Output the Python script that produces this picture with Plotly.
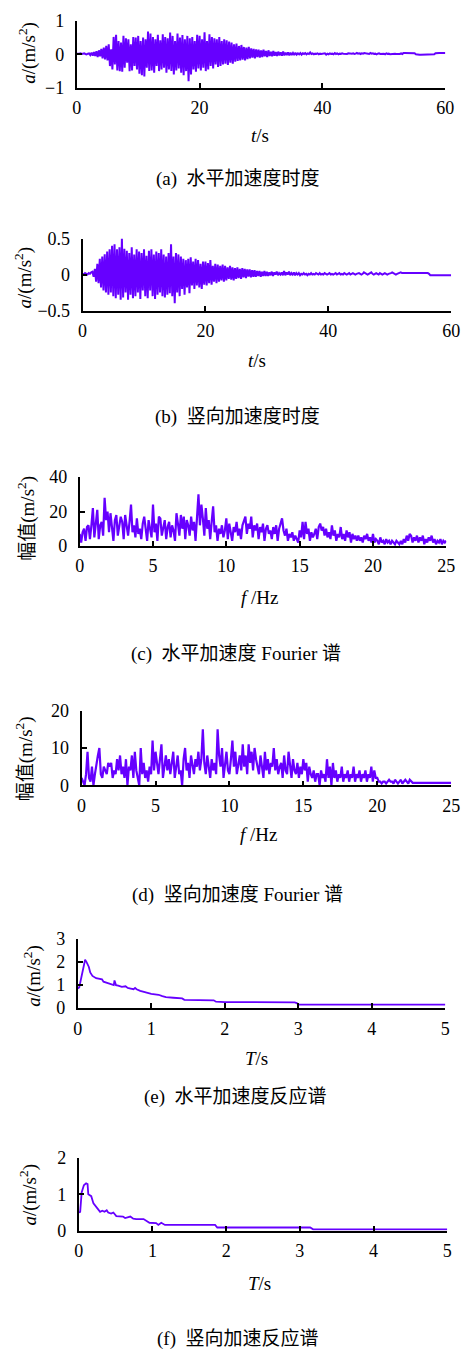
import plotly.graph_objects as go

# ---------------------------------------------------------------------------
# Data
# ---------------------------------------------------------------------------
DT = 0.2    # sampling step of the acceleration records, s
DF = 0.1    # frequency step of the Fourier amplitude spectra, Hz

# horizontal acceleration history, m/s^2 (one row = 5 s)
acc_h = [
    0.02, 0.01, 0.02, 0.03, 0.01, 0.02, 0.03, 0.01, 0.00, 0.02, 0.03, -0.02, 0.05, -0.04, 0.07, -0.05, 0.09, -0.08, 0.12, -0.06, 0.16, -0.12, 0.20, -0.15, 0.25,
    -0.18, 0.30, -0.35, 0.15, -0.45, 0.52, -0.30, 0.58, -0.48, 0.40, -0.50, 0.35, -0.52, 0.55, -0.40, 0.48, -0.25, 0.45, -0.50, 0.30, -0.48, 0.52, -0.35, 0.50, -0.45,
    0.55, -0.58, 0.40, -0.62, 0.50, -0.66, 0.45, -0.40, 0.68, -0.50, 0.62, -0.48, 0.52, -0.55, 0.45, -0.35, 0.58, -0.50, 0.42, -0.45, 0.60, -0.40, 0.52, -0.55, 0.48,
    -0.45, 0.65, -0.50, 0.55, -0.60, 0.40, -0.48, 0.62, -0.42, 0.50, -0.55, 0.58, -0.62, 0.45, -0.50, 0.55, -0.80, 0.48, -0.60, 0.52, -0.45, 0.40, -0.52, 0.58, -0.42,
    0.55, -0.48, 0.45, -0.40, 0.66, -0.50, 0.40, -0.45, 0.60, -0.35, 0.52, -0.42, 0.48, -0.30, 0.45, -0.38, 0.52, -0.35, 0.40, -0.30, 0.45, -0.28, 0.42, -0.32, 0.38,
    -0.25, 0.35, -0.28, 0.30, -0.22, 0.32, -0.20, 0.25, -0.18, 0.28, -0.16, 0.22, -0.18, 0.20, -0.14, 0.22, -0.12, 0.18, -0.10, 0.16, -0.12, 0.15, -0.08, 0.14, -0.10,
    0.12, -0.08, 0.14, -0.06, 0.10, -0.08, 0.12, -0.05, 0.08, -0.06, 0.10, -0.04, 0.07, -0.05, 0.08, -0.03, 0.06, -0.04, 0.08, -0.03, 0.05, -0.02, 0.06, -0.03, 0.05,
    -0.02, 0.04, -0.02, 0.05, -0.01, 0.03, 0.00, 0.04, -0.01, 0.03, 0.01, 0.04, 0.00, 0.03, 0.01, 0.06, 0.01, 0.03, 0.00, 0.02, 0.01, 0.03, 0.00, 0.02, 0.01,
    0.02, 0.01, 0.03, -0.01, 0.02, 0.00, 0.03, 0.01, 0.02, 0.00, 0.04, 0.01, 0.03, 0.00, 0.02, 0.01, 0.03, 0.02, 0.01, 0.02, 0.01, 0.03, 0.02, 0.01, 0.02,
    0.03, 0.01, 0.02, 0.04, 0.02, 0.03, 0.01, 0.03, 0.02, 0.04, 0.03, 0.02, 0.03, 0.01, 0.04, 0.02, 0.03, 0.01, 0.02, 0.00, 0.02, 0.03, 0.01, 0.02, 0.01,
    0.02, 0.00, 0.03, 0.01, 0.02, 0.00, 0.01, 0.02, 0.01, 0.02, 0.01, 0.02, 0.01, 0.01, 0.03, 0.01, 0.04, 0.04, 0.04, 0.04, 0.04, 0.04, 0.04, 0.04, 0.04,
    0.03, 0.00, -0.01, -0.01, -0.01, -0.01, -0.01, -0.01, -0.01, -0.01, -0.01, -0.01, -0.01, -0.01, -0.01, -0.01, 0.00, 0.03, 0.04, 0.04, 0.04, 0.04, 0.04, 0.04, 0.04,
    0.04,
]

# vertical acceleration history, m/s^2 (one row = 5 s)
acc_v = [
    0.01, 0.00, 0.02, 0.01, 0.00, 0.02, 0.01, 0.03, 0.04, -0.03, 0.08, -0.10, 0.15, -0.12, 0.22, -0.18, 0.25, -0.22, 0.28, -0.25, 0.32, -0.28, 0.35, -0.25, 0.40,
    -0.30, 0.42, -0.33, 0.35, -0.28, 0.38, -0.35, 0.50, -0.32, 0.36, -0.25, 0.33, -0.35, 0.30, -0.28, 0.38, -0.33, 0.28, -0.30, 0.35, -0.25, 0.32, -0.34, 0.30, -0.22,
    0.35, -0.30, 0.26, -0.33, 0.33, -0.22, 0.35, -0.30, 0.28, -0.34, 0.32, -0.28, 0.30, -0.25, 0.35, -0.30, 0.28, -0.32, 0.25, -0.28, 0.30, -0.26, 0.42, -0.30, 0.25,
    -0.40, 0.30, -0.25, 0.28, -0.30, 0.25, -0.20, 0.22, -0.28, 0.20, -0.18, 0.22, -0.26, 0.24, -0.15, 0.18, -0.20, 0.22, -0.15, 0.20, -0.18, 0.15, -0.20, 0.18, -0.14,
    0.18, -0.15, 0.16, -0.12, 0.20, -0.14, 0.12, -0.10, 0.15, -0.12, 0.14, -0.10, 0.12, -0.08, 0.14, -0.10, 0.12, -0.08, 0.10, -0.06, 0.12, -0.07, 0.10, -0.08, 0.09,
    -0.06, 0.10, -0.05, 0.08, -0.06, 0.09, -0.04, 0.08, -0.05, 0.07, -0.03, 0.07, -0.04, 0.06, -0.03, 0.06, -0.03, 0.05, -0.02, 0.05, -0.03, 0.04, -0.02, 0.05, -0.02,
    0.04, -0.02, 0.03, -0.01, 0.04, -0.02, 0.03, 0.00, 0.04, -0.01, 0.02, 0.00, 0.03, -0.01, 0.05, -0.01, 0.03, 0.00, 0.04, -0.01, 0.02, 0.00, 0.03, -0.01, 0.02,
    0.00, 0.02, -0.01, 0.01, 0.00, 0.02, 0.00, 0.01, -0.01, 0.01, 0.00, 0.02, 0.00, 0.01, 0.00, 0.02, 0.01, 0.00, 0.02, 0.00, 0.01, 0.00, 0.02, 0.01, 0.00,
    0.01, 0.02, 0.00, 0.01, 0.00, 0.01, 0.02, 0.00, 0.01, 0.02, 0.00, 0.01, 0.00, 0.02, 0.01, 0.00, 0.01, 0.02, 0.00, 0.01, 0.02, 0.01, 0.00, 0.01, 0.02,
    0.02, 0.01, 0.00, 0.01, 0.03, 0.02, 0.01, 0.00, 0.01, 0.02, 0.03, 0.01, 0.00, 0.01, 0.02, 0.01, 0.00, 0.02, 0.01, 0.00, 0.01, 0.02, 0.01, 0.00, 0.01,
    0.01, 0.02, 0.03, 0.02, 0.01, 0.00, 0.01, 0.02, 0.03, 0.03, 0.02, 0.02, 0.03, 0.03, 0.02, 0.02, 0.02, 0.02, 0.02, 0.02, 0.02, 0.03, 0.02, 0.02, 0.02,
    0.02, 0.02, 0.02, 0.02, 0.02, 0.02, 0.02, 0.01, -0.01, -0.01, -0.01, -0.01, -0.01, -0.01, -0.01, -0.01, -0.01, -0.01, -0.01, -0.01, -0.01, -0.01, -0.01, -0.01, -0.01,
    -0.01,
]

# Fourier amplitude of the horizontal record (one row = 1 Hz)
four_h = [
    7, 2, 8, 10, 3, 11, 12, 4, 12, 22,
    5, 13, 21, 4, 12, 14, 6, 28, 15, 20,
    8, 19, 12, 3, 15, 18, 6, 12, 17, 14,
    4, 18, 10, 6, 14, 24, 8, 12, 5, 16,
    7, 10, 4, 13, 17, 9, 3, 15, 11, 5,
    24, 8, 13, 3, 17, 16, 6, 12, 15, 4,
    11, 14, 5, 12, 9, 3, 19, 13, 6, 18,
    10, 17, 4, 15, 12, 6, 17, 9, 14, 3,
    18, 30, 12, 24, 16, 6, 22, 10, 15, 4,
    14, 23, 8, 12, 3, 10, 7, 12, 5, 9,
    16, 4, 13, 9, 3, 11, 8, 14, 6, 10,
    4, 12, 15, 17, 7, 13, 10, 17, 5, 12,
    9, 13, 4, 11, 8, 13, 3, 10, 12, 7,
    9, 4, 11, 7, 12, 3, 10, 14, 16, 9,
    6, 10, 3, 7, 5, 8, 3, 6, 4, 2,
    9, 5, 14, 4, 14, 7, 10, 3, 8, 5,
    7, 10, 4, 11, 13, 9, 11, 6, 10, 5,
    8, 4, 12, 6, 9, 3, 7, 5, 11, 4,
    7, 3, 9, 5, 8, 2, 7, 4, 6, 3,
    6, 3, 5, 2, 6, 4, 7, 3, 5, 2,
    7, 2, 4, 3, 1, 5, 2, 3, 1, 4,
    2, 3, 1, 3, 2, 1, 3, 2, 1, 3,
    1, 4, 2, 6, 3, 7, 6, 2, 5, 3,
    6, 2, 5, 3, 6, 1, 4, 2, 5, 3,
    6, 2, 4, 1, 3, 2, 4, 1, 3, 2,
    3,
]

# Fourier amplitude of the vertical record (one row = 1 Hz)
four_v = [
    2, 1, 0, 3, 9, 2, 1, 5, 0, 3,
    6, 8, 10, 3, 2, 5, 4, 3, 6, 5,
    6, 2, 4, 3, 7, 4, 8, 3, 5, 2,
    7, 0, 5, 4, 8, 2, 9, 4, 2, 0,
    10, 3, 6, 2, 4, 1, 5, 3, 12, 4,
    9, 5, 3, 7, 11, 2, 6, 8, 4, 7,
    3, 6, 9, 2, 5, 8, 3, 4, 0, 7,
    10, 4, 6, 2, 8, 5, 3, 7, 5, 9,
    4, 7, 15, 6, 3, 8, 5, 2, 7, 4,
    6, 3, 15, 8, 5, 10, 2, 6, 9, 4,
    3, 7, 12, 5, 9, 3, 6, 8, 4, 11,
    5, 8, 3, 11, 6, 9, 4, 10, 7, 5,
    3, 8, 5, 2, 9, 4, 7, 3, 6, 5,
    10, 4, 7, 3, 5, 6, 2, 8, 4, 3,
    9, 5, 2, 7, 4, 3, 6, 2, 5, 3,
    7, 4, 6, 1, 5, 3, 2, 4, 1, 3,
    3, 0, 4, 2, 3, 1, 7, 2, 5, 0,
    6, 2, 4, 1, 3, 2, 5, 1, 3, 2,
    4, 1, 3, 2, 5, 1, 3, 2, 4, 1,
    3, 2, 4, 1, 3, 2, 5, 1, 4, 2,
    2, 1, 1, 0.5, 1, 1, 0.5, 1, 1.5, 1,
    1, 0.5, 1.5, 1, 0.5, 1, 1.5, 0.5, 1, 1.5,
    1, 0.5, 1.5, 1, 0.7, 0.7, 0.7, 0.7, 0.7, 0.7,
    0.7, 0.7, 0.7, 0.7, 0.7, 0.7, 0.7, 0.7, 0.7, 0.7,
    0.7, 0.7, 0.7, 0.7, 0.7, 0.7, 0.7, 0.7, 0.7, 0.7,
    0.7,
]

# acceleration response spectra: period T (s) and spectral acceleration (m/s^2)
rs_h_T = [0, 0.02, 0.05, 0.08, 0.1, 0.12, 0.14, 0.15, 0.17, 0.2,
          0.25, 0.3, 0.33, 0.35, 0.4, 0.45, 0.49, 0.5, 0.52, 0.55,
          0.6, 0.65, 0.68, 0.72, 0.76, 0.78, 0.8, 0.85, 0.9, 0.95,
          1.0, 1.05, 1.1, 1.15, 1.2, 1.3, 1.42, 1.45, 1.85, 1.88,
          2.0, 2.95, 2.98, 3.0, 5.0]
rs_h_a = [0.85, 0.9, 1.35, 1.85, 2.1, 2.0, 1.9, 1.8, 1.55, 1.4,
          1.3, 1.28, 1.25, 1.15, 1.1, 1.02, 1.0, 1.2, 1.0, 0.98,
          0.92, 0.95, 0.88, 0.85, 0.82, 0.88, 0.82, 0.75, 0.7, 0.65,
          0.62, 0.6, 0.58, 0.52, 0.48, 0.45, 0.42, 0.36, 0.34, 0.28,
          0.26, 0.25, 0.22, 0.15, 0.15]

rs_v_T = [0, 0.02, 0.04, 0.07, 0.1, 0.12, 0.13, 0.15, 0.17, 0.2,
          0.25, 0.29, 0.32, 0.35, 0.38, 0.4, 0.44, 0.47, 0.51, 0.6,
          0.63, 0.66, 0.7, 0.74, 0.78, 0.88, 0.92, 0.96, 1.05, 1.08,
          1.12, 1.14, 1.17, 1.85, 1.88, 3.14, 3.18, 5.0]
rs_v_a = [0.5, 0.52, 1.05, 1.25, 1.3, 1.28, 1.0, 0.98, 0.95, 0.75,
          0.62, 0.52, 0.55, 0.52, 0.56, 0.5, 0.47, 0.5, 0.4, 0.39,
          0.35, 0.36, 0.39, 0.33, 0.32, 0.32, 0.28, 0.22, 0.21, 0.16,
          0.22, 0.2, 0.16, 0.16, 0.09, 0.09, 0.04, 0.04]

t_h = [i * DT for i in range(len(acc_h))]
t_v = [i * DT for i in range(len(acc_v))]
f_h = [i * DF for i in range(len(four_h))]
f_v = [i * DF for i in range(len(four_v))]

# ---------------------------------------------------------------------------
# Layout of the six panels (pixel boxes on a 465 x 1359 page)
# ---------------------------------------------------------------------------
W, H = 465, 1359
FONT = "Liberation Serif, Noto Sans CJK SC, serif"
LINE = "#6600ff"
TICK_SIZE = 18
TITLE_SIZE = 19
CAP_SIZE = 19

A_LABEL = "<i>a</i>/(m/s<sup>2</sup>)"
AMP_LABEL = "幅值(m/s<sup>2</sup>)"

panels = [
    dict(x=t_h, y=acc_h, xr=[0, 60], yr=[-1, 1], xt=[0, 20, 40, 60], yt=[-1, 0, 1],
         box=(74, 454, 11, 79), width=2.0, ytitle=A_LABEL, ypos=(23, 43),
         xtitle="<i>t</i>/s", xpos=(263, 127),
         cap="(a)  水平加速度时度", cpos=(240, 172)),
    dict(x=t_v, y=acc_v, xr=[0, 60], yr=[-0.5, 0.5], xt=[0, 20, 40, 60], yt=[-0.5, 0, 0.5],
         box=(80, 460, 232, 305), width=2.0, ytitle=A_LABEL, ypos=(19, 271),
         xtitle="<i>t</i>/s", xpos=(260, 356),
         cap="(b)  竖向加速度时度", cpos=(240, 413)),
    dict(x=f_h, y=four_h, xr=[0, 25], yr=[0, 40], xt=[0, 5, 10, 15, 20, 25], yt=[0, 20, 40],
         box=(77, 455, 474, 544), width=2.2, ytitle=AMP_LABEL, ypos=(22, 516),
         xtitle="<i>f</i> /Hz", xpos=(262, 596),
         cap="(c)  水平加速度 Fourier 谱", cpos=(238, 654)),
    dict(x=f_v, y=four_v, xr=[0, 25], yr=[0, 20], xt=[0, 5, 10, 15, 20, 25], yt=[0, 10, 20],
         box=(79, 460, 711, 787), width=2.2, ytitle=AMP_LABEL, ypos=(20, 760),
         xtitle="<i>f</i> /Hz", xpos=(261, 837),
         cap="(d)  竖向加速度 Fourier 谱", cpos=(240, 898)),
    dict(x=rs_h_T, y=rs_h_a, xr=[0, 5], yr=[0, 3], xt=[0, 1, 2, 3, 4, 5], yt=[0, 1, 2, 3],
         box=(75, 454, 943, 1013), width=1.8, ytitle=A_LABEL, ypos=(28, 980),
         xtitle="<i>T</i>/s", xpos=(259, 1064),
         cap="(e)  水平加速度反应谱", cpos=(238, 1103)),
    dict(x=rs_v_T, y=rs_v_a, xr=[0, 5], yr=[0, 2], xt=[0, 1, 2, 3, 4, 5], yt=[0, 1, 2],
         box=(76, 456, 1165, 1239), width=1.8, ytitle=A_LABEL, ypos=(24, 1202),
         xtitle="<i>T</i>/s", xpos=(262, 1293),
         cap="(f)  竖向加速反应谱", cpos=(240, 1349)),
]

fig = go.Figure()
layout = dict(
    width=W, height=H, autosize=False,
    margin=dict(l=0, r=0, t=0, b=0),
    paper_bgcolor="white", plot_bgcolor="white",
    showlegend=False,
    font=dict(family=FONT, size=TICK_SIZE, color="black"),
    annotations=[],
)


def px(x):
    return x / W


def py(y):
    return 1 - y / H


axis_common = dict(
    showline=True, linecolor="black", linewidth=1.8,
    showgrid=False, zeroline=False,
    ticks="inside", ticklen=5, tickwidth=1.6, tickcolor="black",
    tickfont=dict(family=FONT, size=TICK_SIZE, color="black"),
    fixedrange=True,
)

for i, p in enumerate(panels, start=1):
    sx = "" if i == 1 else str(i)
    x0, x1, y0, y1 = p["box"]
    fig.add_trace(go.Scatter(
        x=p["x"], y=p["y"], mode="lines",
        line=dict(color=LINE, width=p["width"]),
        xaxis="x" + sx, yaxis="y" + sx, hoverinfo="skip",
    ))
    layout["xaxis" + sx] = dict(
        axis_common, domain=[px(x0), px(x1)], range=p["xr"],
        tickvals=p["xt"], anchor="y" + sx, ticklabelstandoff=3,
    )
    layout["yaxis" + sx] = dict(
        axis_common, domain=[py(y1), py(y0)], range=p["yr"],
        tickvals=p["yt"], anchor="x" + sx, ticklabelstandoff=7,
    )
    ax, ay = p["ypos"]
    layout["annotations"].append(dict(
        text=p["ytitle"], x=px(ax), y=py(ay), xref="paper", yref="paper",
        xanchor="center", yanchor="middle", textangle=-90, showarrow=False,
        font=dict(family=FONT, size=TITLE_SIZE, color="black"),
    ))
    tx, ty = p["xpos"]
    layout["annotations"].append(dict(
        text=p["xtitle"], x=px(tx), y=py(ty), xref="paper", yref="paper",
        xanchor="center", yanchor="middle", showarrow=False,
        font=dict(family=FONT, size=TITLE_SIZE, color="black"),
    ))
    cx, cy = p["cpos"]
    layout["annotations"].append(dict(
        text=p["cap"], x=px(cx), y=py(cy), xref="paper", yref="paper",
        xanchor="center", yanchor="middle", showarrow=False,
        font=dict(family=FONT, size=CAP_SIZE, color="black"),
    ))

fig.update_layout(**layout)
fig.write_html("out.html")
